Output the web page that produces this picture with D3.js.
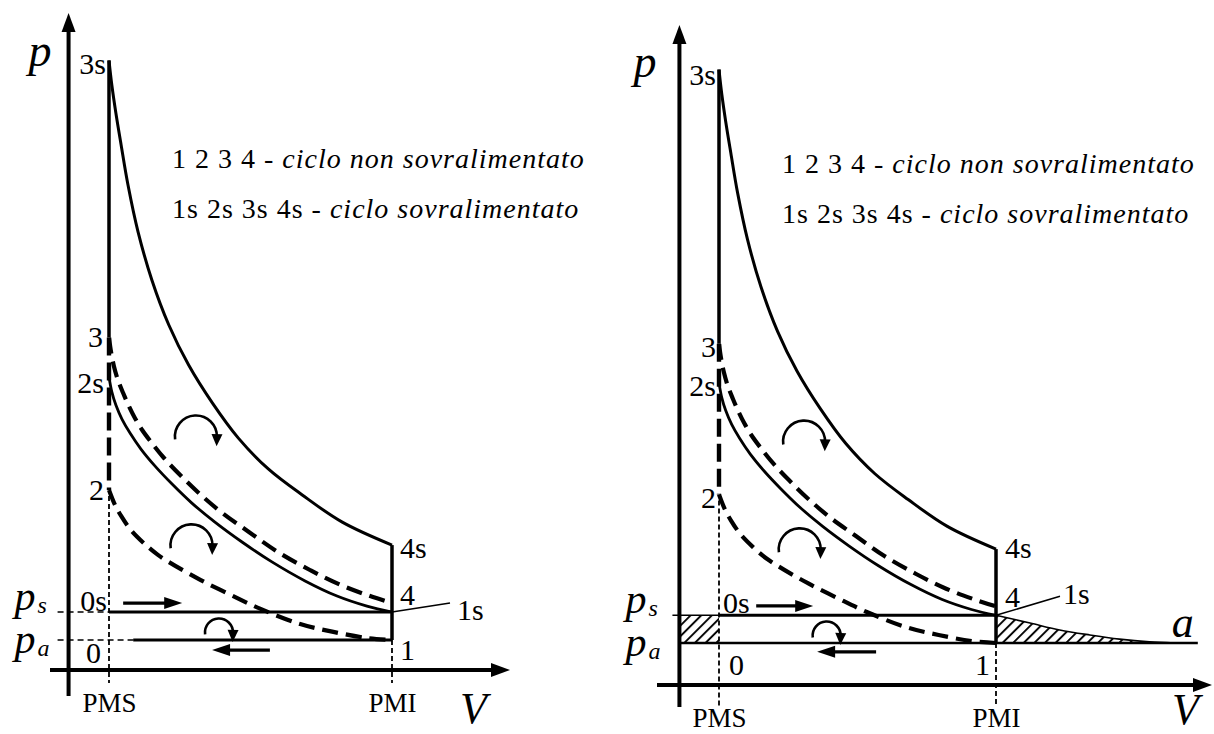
<!DOCTYPE html>
<html>
<head>
<meta charset="utf-8">
<script src="https://cdn.jsdelivr.net/npm/d3@7"></script>
<style>
  html, body { margin: 0; padding: 0; background: #fff; }
  svg { display: block; }
</style>
</head>
<body>
<svg id="chart" width="1214" height="734"></svg>
<script>
// ---- Cycle data (V in clearance-volume units: PMS = 1, PMI = 8; p with pa = 1, ps = 2) ----
const V_PMS = 1, V_PMI = 8, V_END = 13.1;
const P_A = 1.0, P_S = 2.0;
const P_3S = 21.7, P_3 = 11.8, P_2S = 10.4, P_2 = 6.36, P_4S = 4.39, P_4 = 2.32;

// expansion 3s -> 4s (supercharged)
const expansionSuper = [
  [1.00, 21.70], [1.07, 20.82], [1.17, 19.82], [1.30, 18.68], [1.47, 17.25],
  [1.72, 15.57], [2.06, 13.86], [2.48, 12.25], [2.97, 10.82], [3.56, 9.46],
  [4.20, 8.21], [4.94, 7.11], [5.78, 6.18], [6.77, 5.21], [8.00, 4.39]
];
// compression 1s -> 2s (supercharged)
const compressionSuper = [
  [1.00, 10.39], [1.07, 9.86], [1.17, 9.39], [1.32, 8.89], [1.52, 8.39],
  [1.79, 7.82], [2.14, 7.21], [2.56, 6.57], [3.05, 5.89], [3.62, 5.21],
  [4.29, 4.50], [5.03, 3.79], [5.85, 3.11], [6.64, 2.57], [7.38, 2.21], [8.00, 2.00]
];
// expansion 3 -> 4 (naturally aspirated)
const expansionNat = [
  [1.00, 11.79], [1.05, 11.29], [1.12, 10.79], [1.22, 10.29], [1.35, 9.82],
  [1.49, 9.36], [1.64, 8.93], [1.82, 8.50], [2.04, 8.07], [2.36, 7.50],
  [2.76, 6.89], [3.25, 6.21], [3.80, 5.54], [4.46, 4.86], [5.18, 4.14],
  [5.97, 3.50], [6.74, 2.96], [7.46, 2.57], [8.00, 2.32]
];
// compression 1 -> 2 (naturally aspirated)
const compressionNat = [
  [1.00, 6.36], [1.15, 5.82], [1.30, 5.43], [1.54, 4.93], [1.86, 4.46],
  [2.21, 4.04], [2.65, 3.64], [3.27, 3.14], [4.01, 2.61], [4.75, 2.11],
  [5.73, 1.57], [6.55, 1.29], [7.38, 1.07], [8.00, 1.00]
];
// free expansion 1s -> a, beyond PMI
const blowdown = [
  [8.00, 2.00], [8.86, 1.72], [9.61, 1.47], [10.37, 1.29], [11.12, 1.14],
  [11.88, 1.04], [12.51, 1.00]
];

const vTickValues = [V_PMS, V_PMI];
const vTickLabels = ["PMS", "PMI"];
const legendIds = ["1 2 3 4", "1s 2s 3s 4s"];
const legendDesc = ["ciclo non sovralimentato", "ciclo sovralimentato"];

// rotation markers inside the loops: [V, p, radius px]
const loopArrows = [[3.15, 8.27, 21], [3.04, 4.38, 21], [3.72, 1.27, 14]];

const SERIF = "'Liberation Serif', Tinos, 'Times New Roman', 'DejaVu Serif', serif";

// ---- Panel layouts ----
const panels = [
  {
    xr: [109, 392], yr: [640, 60.4], vAxisY: 670, pTop: 13, pBottom: 696, vLeft: 50, vRight: 510,
    guideBottom: 683, hatch: false,
    pLabel: [-40, 66], vLabel: [460, 723], tickY: 42, legend: [172, 168],
    flowArrows: [[[1.35, 2.32], [2.81, 2.32]], [[4.98, 0.64], [3.55, 0.64]]],
    leader: [58, -9],
    labels: [
      ["3s", 1, P_3S, -3, 14, "end"], ["3", 1, P_3, -6, 9, "end"], ["2s", 1, P_2S, -5, 16, "end"],
      ["2", 1, P_2, -5, 10, "end"], ["4s", 8, P_4S, 8, 13, "start"], ["4", 8, P_4, 8, 2, "start"],
      ["1s", 8, P_S, 65, 8, "start"], ["1", 8, P_A, 8, 20, "start"], ["0s", 1, P_S, -2, -1, "end"],
      ["0", 1, P_A, -8, 23, "end"]
    ]
  },
  {
    xr: [719, 996], yr: [643, 69.6], vAxisY: 685, pTop: 25, pBottom: 707, vLeft: 657, vRight: 1212,
    guideBottom: 707, hatch: true,
    pLabel: [-46, 77], vLabel: [1172, 724], tickY: 42, legend: [782, 173],
    flowArrows: [[[1.94, 2.34], [3.38, 2.34]], [[4.97, 0.68], [3.48, 0.68]]],
    leader: [64, -19],
    labels: [
      ["3s", 1, P_3S, -3, 15, "end"], ["3", 1, P_3, -3, 13, "end"], ["2s", 1, P_2S, -3, 13, "end"],
      ["2", 1, P_2, -3, 13, "end"], ["4s", 8, P_4S, 9, 9, "start"], ["4", 8, P_4, 9, 1, "start"],
      ["1s", 8, P_S, 67, -11, "start"], ["1", 8, P_A, -6, 32, "end"], ["0s", 1, P_S, 4, -2, "start"],
      ["0", 1, P_A, 10, 32, "start"]
    ]
  }
];

const svg = d3.select("#chart").attr("font-family", SERIF);

// diagonal hatching for the lost-work areas
const defs = svg.append("defs");
const pat = defs.append("pattern")
  .attr("id", "hatch").attr("patternUnits", "userSpaceOnUse")
  .attr("width", 7.5).attr("height", 7.5).attr("patternTransform", "rotate(45)");
pat.append("line").attr("x1", 1).attr("y1", 0).attr("x2", 1).attr("y2", 7.5)
  .attr("stroke", "#000").attr("stroke-width", 1.9);

function arrowHead(g, tip, dir, len, half) {
  const [dx, dy] = dir, n = Math.hypot(dx, dy), ux = dx / n, uy = dy / n;
  const bx = tip[0] - ux * len, by = tip[1] - uy * len;
  g.append("path")
    .attr("d", `M${tip[0]},${tip[1]}L${bx - uy * half},${by + ux * half}L${bx + uy * half},${by - ux * half}Z`)
    .attr("fill", "#000");
}

function label(g, x, y, size, txt) {
  return g.append("text").attr("x", x).attr("y", y).attr("font-family", SERIF)
    .attr("font-size", size).attr("fill", "#000").text(txt);
}

function drawPanel(cfg) {
  const g = svg.append("g");
  const x = d3.scaleLinear([V_PMS, V_PMI], cfg.xr);
  const y = d3.scaleLinear([P_A, P_3S], cfg.yr);
  const x0 = x(0);
  const smooth = d3.line().x(d => x(d[0])).y(d => y(d[1])).curve(d3.curveCatmullRom.alpha(0.5));
  const straight = d3.line().x(d => x(d[0])).y(d => y(d[1]));
  const seg = (V1, p1, V2, p2) => straight([[V1, p1], [V2, p2]]);
  const stroke = (d, w, dash) => {
    const p = g.append("path").attr("d", d).attr("fill", "none")
      .attr("stroke", "#000").attr("stroke-width", w).attr("stroke-linejoin", "round");
    if (dash) p.attr("stroke-dasharray", dash);
    return p;
  };

  // hatched areas
  if (cfg.hatch) {
    g.append("rect").attr("x", x0).attr("y", y(P_S)).attr("width", x(V_PMS) - x0)
      .attr("height", y(P_A) - y(P_S)).attr("fill", "url(#hatch)");
    g.append("path")
      .attr("d", d3.area().x(d => x(d[0])).y0(y(P_A)).y1(d => y(d[1]))
        .curve(d3.curveCatmullRom.alpha(0.5))(blowdown))
      .attr("fill", "url(#hatch)");
  }

  // dotted guides at PMS and PMI
  g.append("line").attr("x1", x(V_PMS)).attr("x2", x(V_PMS))
    .attr("y1", y(P_2) + 6).attr("y2", cfg.guideBottom)
    .attr("stroke", "#000").attr("stroke-width", 1.8).attr("stroke-dasharray", "5,3");
  g.append("line").attr("x1", x(V_PMI)).attr("x2", x(V_PMI))
    .attr("y1", y(P_A)).attr("y2", cfg.guideBottom)
    .attr("stroke", "#000").attr("stroke-width", 1.8).attr("stroke-dasharray", "5,3");

  // intake / exhaust pressure lines
  if (!cfg.hatch) {
    g.append("line").attr("x1", x0 - 11).attr("x2", x(V_PMS)).attr("y1", y(P_S)).attr("y2", y(P_S))
      .attr("stroke", "#000").attr("stroke-width", 1.6).attr("stroke-dasharray", "6,4");
    g.append("line").attr("x1", x0 - 11).attr("x2", x(1.77)).attr("y1", y(P_A)).attr("y2", y(P_A))
      .attr("stroke", "#000").attr("stroke-width", 1.6).attr("stroke-dasharray", "6,4");
    stroke(seg(V_PMS, P_S, V_PMI, P_S), 3);
    stroke(seg(1.6, P_A, V_PMI, P_A), 3);
  } else {
    g.append("line").attr("x1", x0 - 7).attr("x2", x(V_PMS)).attr("y1", y(P_S)).attr("y2", y(P_S))
      .attr("stroke", "#000").attr("stroke-width", 1.5);
    stroke(seg(V_PMS, P_S, V_PMI, P_S), 3);
    stroke(seg(0, P_A, V_END, P_A), 2.6);
    stroke(smooth(blowdown), 1.6);
  }

  // supercharged cycle (solid)
  stroke(smooth(expansionSuper), 3);
  stroke(smooth(compressionSuper), 2.8);
  stroke(seg(V_PMS, P_3S, V_PMS, P_3), 3.5);
  stroke(seg(V_PMI, P_4S, V_PMI, P_A), 3.5);

  // naturally aspirated cycle (dashed)
  stroke(smooth(expansionNat), 4.2, "16,8");
  stroke(smooth(compressionNat), 4.2, "16,8");
  stroke(seg(V_PMS, P_3, V_PMS, P_2), 4.4, "18,7");

  // axes with arrowheads
  g.append("line").attr("x1", x0).attr("x2", x0).attr("y1", cfg.pBottom).attr("y2", cfg.pTop + 12)
    .attr("stroke", "#000").attr("stroke-width", 4);
  arrowHead(g, [x0, cfg.pTop], [0, -1], 19, 7);
  g.append("line").attr("x1", cfg.vLeft).attr("x2", cfg.vRight - 12).attr("y1", cfg.vAxisY).attr("y2", cfg.vAxisY)
    .attr("stroke", "#000").attr("stroke-width", 4);
  arrowHead(g, [cfg.vRight, cfg.vAxisY], [1, 0], 19, 7);

  // PMS / PMI tick labels
  const ax = g.append("g").attr("transform", `translate(0,${cfg.vAxisY})`)
    .call(d3.axisBottom(x).tickValues(vTickValues).tickFormat((d, i) => vTickLabels[i]).tickSize(0));
  ax.attr("font-family", SERIF);
  ax.select(".domain").remove();
  ax.selectAll("text").attr("y", cfg.tickY).attr("dy", 0)
    .attr("font-family", SERIF).attr("font-size", 27).attr("fill", "#000");

  // flow arrows on intake / exhaust strokes
  cfg.flowArrows.forEach(([a, b]) => {
    const ax1 = x(a[0]), ay = y(a[1]), bx = x(b[0]);
    const s = Math.sign(bx - ax1);
    g.append("line").attr("x1", ax1).attr("x2", bx - s * 12).attr("y1", ay).attr("y2", ay)
      .attr("stroke", "#000").attr("stroke-width", 3.2);
    arrowHead(g, [bx, ay], [s, 0], 18, 6);
  });

  // rotation markers
  loopArrows.forEach(([V, p, r]) => {
    const cx = x(V), cy = y(p);
    const a0 = 172 * Math.PI / 180, a1 = 362 * Math.PI / 180;
    const pth = d3.path();
    pth.arc(cx, cy, r, a0, a1, false);
    g.append("path").attr("d", pth.toString()).attr("fill", "none")
      .attr("stroke", "#000").attr("stroke-width", 2.6);
    const ex = cx + r * Math.cos(a1), ey = cy + r * Math.sin(a1);
    const dir = [-Math.sin(a1), Math.cos(a1)];
    arrowHead(g, [ex + dir[0] * 9, ey + dir[1] * 9], dir, 12, 5.5);
  });

  // leader for 1s
  g.append("line").attr("x1", x(V_PMI)).attr("y1", y(P_S))
    .attr("x2", x(V_PMI) + cfg.leader[0]).attr("y2", y(P_S) + cfg.leader[1])
    .attr("stroke", "#000").attr("stroke-width", 1.5);

  // state point labels
  cfg.labels.forEach(([t, V, p, dx, dy, anchor]) => {
    label(g, x(V) + dx, y(p) + dy, 30, t).attr("text-anchor", anchor);
  });

  // ps / pa
  [[P_S, -2, "s"], [P_A, 13, "a"]].forEach(([p, dy, sub]) => {
    const t = label(g, x0 - 54, y(p) + dy, 42, null).attr("font-style", "italic");
    t.append("tspan").text("p");
    t.append("tspan").attr("font-size", 24).attr("dx", 2).attr("dy", 3).text(sub);
  });
  if (cfg.hatch) {
    label(g, x(V_END) - 26, y(P_A) - 6, 44, "a").attr("font-style", "italic");
  }

  // axis titles
  label(g, x0 + cfg.pLabel[0], cfg.pLabel[1], 46, "p").attr("font-style", "italic");
  label(g, cfg.vLabel[0], cfg.vLabel[1], 44, "V").attr("font-style", "italic");

  // legend
  legendIds.forEach((ids, i) => {
    const t = label(g, cfg.legend[0], cfg.legend[1] + i * 50, 28, null).attr("letter-spacing", 1);
    t.append("tspan").text(ids + " - ");
    t.append("tspan").attr("font-style", "italic").text(legendDesc[i]);
  });
}

panels.forEach(drawPanel);
</script>
</body>
</html>
